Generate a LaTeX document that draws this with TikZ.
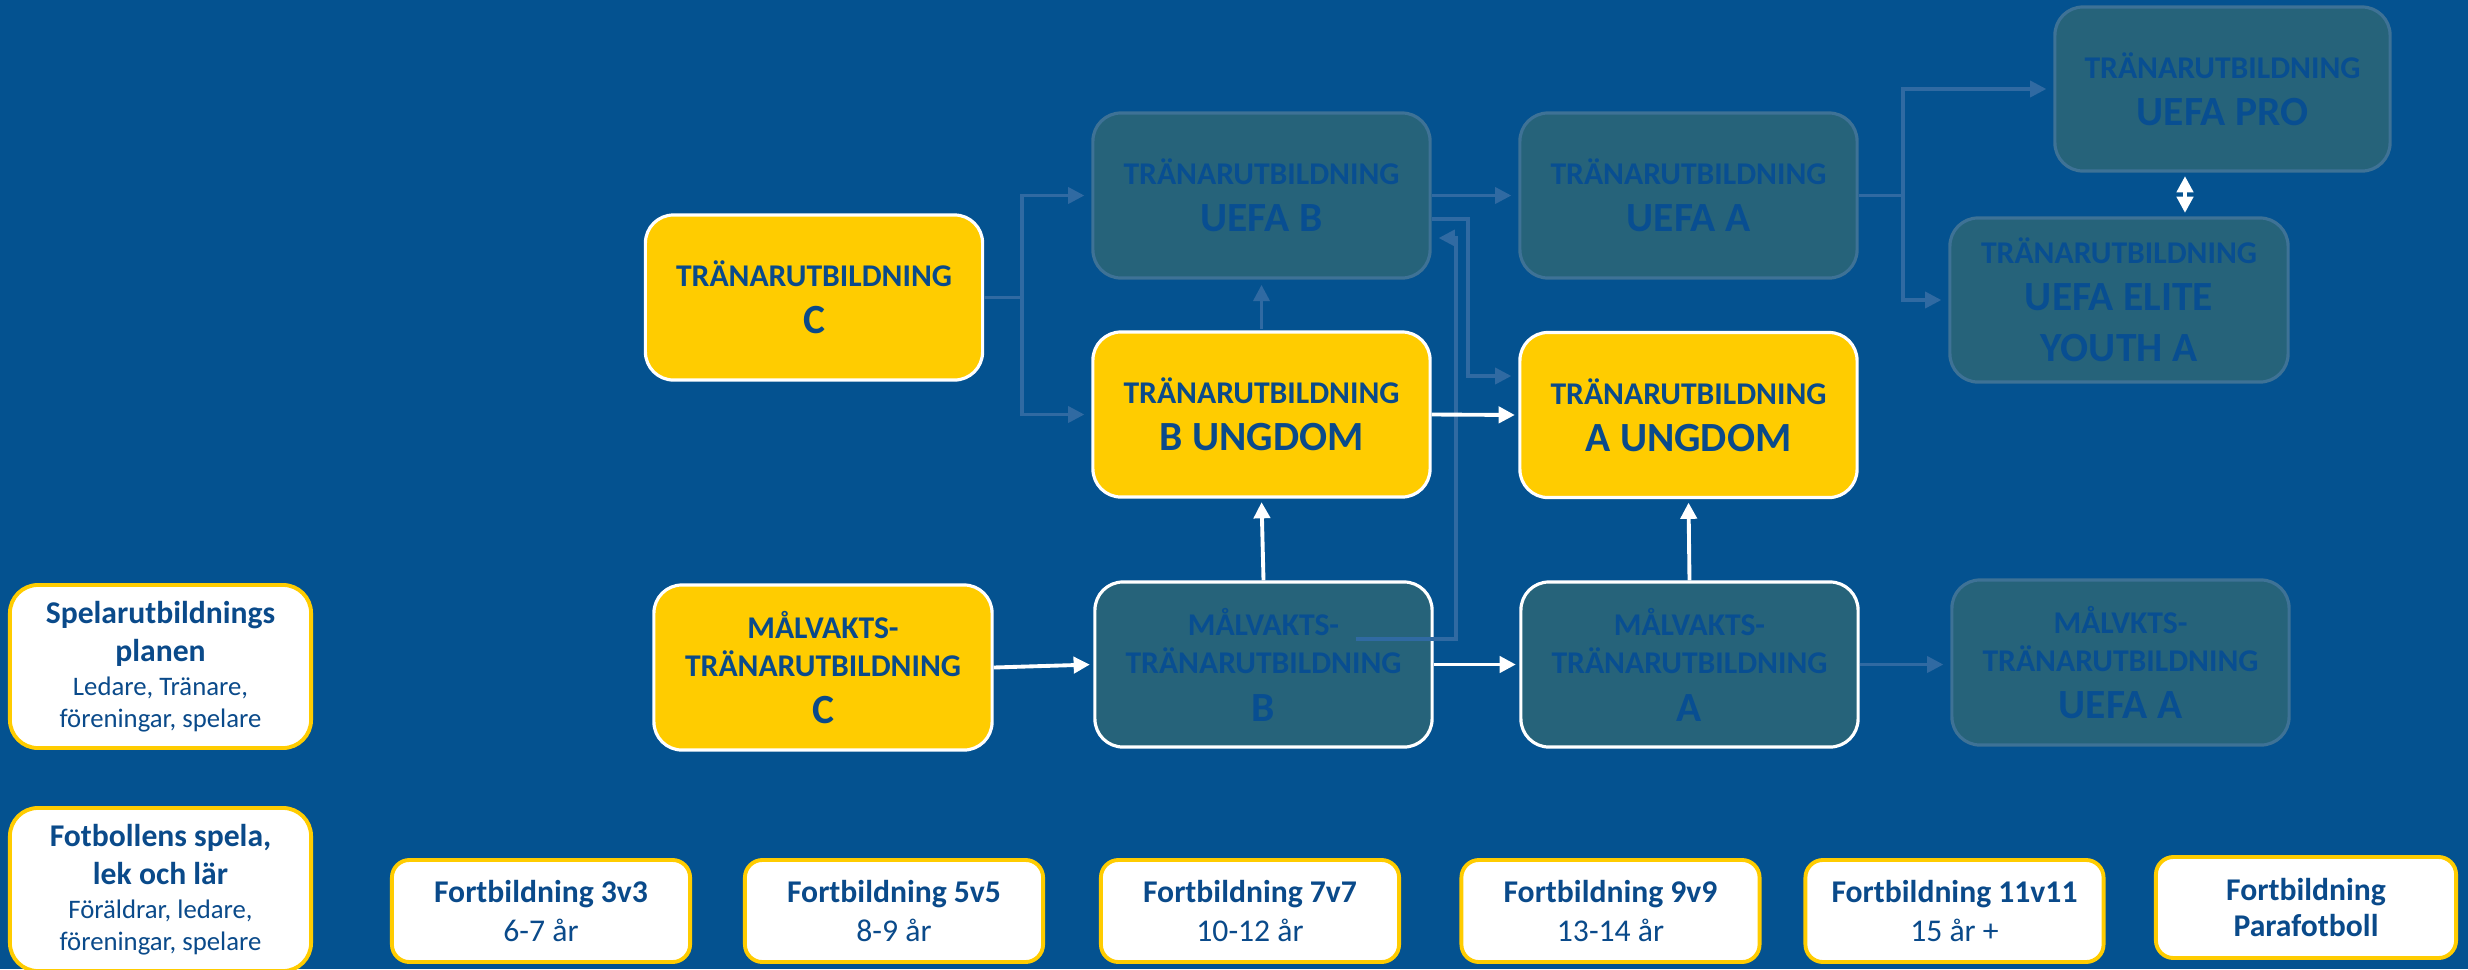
\documentclass[tikz,border=0pt]{standalone}
\usepackage{fontspec}
\setmainfont{Carlito}
\usetikzlibrary{calc,arrows.meta}

\definecolor{bgblue}{RGB}{4,82,144}
\definecolor{gold}{RGB}{255,204,0}
\definecolor{ink}{RGB}{10,74,138}
\definecolor{fadebox}{RGB}{38,99,122}
\definecolor{fadeedge}{RGB}{62,114,150}
\definecolor{fadetext}{RGB}{8,78,145}
\definecolor{faintline}{RGB}{48,106,162}

\newcommand{\lineA}{\fontsize{9}{13.4}\selectfont}
\newcommand{\lineB}{\fontsize{11.8}{14}\selectfont}

\begin{document}
\begin{tikzpicture}[x=0.01cm,y=-0.01cm,>={Triangle[length=4.6pt,width=4.6pt]},
    lvlbox/.style={rectangle,rounded corners=8pt,minimum width=3.37cm,minimum height=1.65cm,
      align=center,font=\bfseries\lineA,line width=0.9pt},
    yel/.style={lvlbox,fill=gold,draw=white,text=ink},
    fade/.style={lvlbox,fill=fadebox,draw=fadeedge,text=fadetext},
    fadew/.style={lvlbox,fill=fadebox,draw=white,text=fadetext},
    info/.style={rectangle,rounded corners=5pt,fill=white,draw=gold,line width=1.1pt,
      minimum width=2.98cm,minimum height=1.02cm,align=center,text=ink,
      font=\fontsize{9}{11}\selectfont},
    side/.style={info,rounded corners=8pt,minimum width=3.01cm,minimum height=1.63cm,
      font=\fontsize{9}{10.8}\selectfont},
    faint/.style={draw=faintline,line width=0.9pt,shorten >=2pt},
    wht/.style={draw=white,line width=1.1pt,shorten >=1pt}]
        \fill[bgblue] (0,0) rectangle (2468,969);
        \useasboundingbox (0,0) rectangle (2468,969);
        % left column
        \node[side] (spel) at (160.5,666.5) {\textbf{Spelarutbildnings}\\\textbf{planen}\\[-1.2pt]{\fontsize{7.6}{9}\selectfont Ledare, Tränare,}\\[-1.8pt]{\fontsize{7.6}{9}\selectfont föreningar, spelare}};
        \node[side] (fotb) at (160.5,889.5) {\textbf{Fotbollens spela,}\\\textbf{lek och lär}\\[-1.2pt]{\fontsize{7.6}{9}\selectfont Föräldrar, ledare,}\\[-1.8pt]{\fontsize{7.6}{9}\selectfont föreningar, spelare}};
        % bottom row
        \node[info] (f3) at (541,911) {\textbf{Fortbildning 3v3}\\6-7 år};
        \node[info] (f5) at (894,911) {\textbf{Fortbildning 5v5}\\8-9 år};
        \node[info] (f7) at (1250,911) {\textbf{Fortbildning 7v7}\\10-12 år};
        \node[info] (f9) at (1610.5,911) {\textbf{Fortbildning 9v9}\\13-14 år};
        \node[info] (f11) at (1954.5,911) {\textbf{Fortbildning 11v11}\\15 år +};
        \node[info,minimum width=3.0cm,minimum height=1.01cm] (fpara) at (2306,907.5) {\textbf{Fortbildning}\\[-0.8pt]\textbf{Parafotboll}};
        % coach courses
        \node[yel] (cC) at (814,297.5) {TRÄNARUTBILDNING\\{\lineB C}};
        \node[fade] (uB) at (1261.5,195.5) {TRÄNARUTBILDNING\\{\lineB UEFA B}};
        \node[yel] (bU) at (1261.5,414.5) {TRÄNARUTBILDNING\\{\lineB B UNGDOM}};
        \node[fade] (uA) at (1688.5,195.5) {TRÄNARUTBILDNING\\{\lineB UEFA A}};
        \node[yel] (aU) at (1688.5,415) {TRÄNARUTBILDNING\\{\lineB A UNGDOM}};
        \node[fade,minimum width=3.35cm,minimum height=1.64cm] (pro) at (2222.5,89) {TRÄNARUTBILDNING\\{\lineB UEFA PRO}};
        \node[fade,minimum width=3.38cm,minimum height=1.64cm] (elite) at (2119,300) {TRÄNARUTBILDNING\\{\lineB UEFA ELITE}\\[1.2pt]{\lineB YOUTH A}};
        % goalkeeper courses
        \node[yel,minimum width=3.38cm] (mC) at (823,667.5) {MÅLVAKTS-\\[-2.4pt]TRÄNARUTBILDNING\\{\lineB C}};
        \node[fadew] (mB) at (1263.5,664.5) {MÅLVAKTS-\\[-2.4pt]TRÄNARUTBILDNING\\{\lineB B}};
        \node[fadew] (mA) at (1689.5,664.5) {MÅLVAKTS-\\[-2.4pt]TRÄNARUTBILDNING\\{\lineB A}};
        \node[fade] (mU) at (2120.5,662.5) {MÅLVKTS-\\[-2.4pt]TRÄNARUTBILDNING\\{\lineB UEFA A}};
        % faint paths
        \coordinate (jC) at (1022,297.5);
        \draw[faint,->] (cC.east) -- (jC) |- (uB.west);
        \draw[faint,->] (jC) |- (bU.west);
        \draw[faint,->,shorten <=0.5pt,shorten >=1.5pt] (bU.north) -- (uB.south);
        \draw[faint,->] (uB.east) -- (uB.east -| uA.west);
        \coordinate (jB) at (1468,219);
        \draw[faint,->] (uB.east |- jB) -- (jB) |- ($(aU.west)+(0,-39)$);
        \coordinate (jM) at (1456,639);
        \draw[faint,->] ($(mB.center)+(92,-25.5)$) -- (jM) |- ($(uB.east)+(0,42.5)$);
        \draw[faint,->] (mA.east) -- (mA.east -| mU.west);
        \coordinate (jA) at (1903,195.5);
        \draw[faint,->] (uA.east) -- (jA) |- (pro.west);
        \draw[faint,->] (jA) |- (elite.west);
        % white paths
        \draw[wht,->] (bU.east) -- (aU.west);
        \draw[wht,->] (mC.east) -- (mB.west);
        \draw[wht,->] (mB.east) -- (mA.west);
        \draw[wht,->] (mB.north) -- (bU.south);
        \draw[wht,->] (mA.north) -- (aU.south);
        \coordinate (dbl) at (2185,195);
        \draw[wht,<->,shorten <=1pt] (dbl |- pro.south) -- (dbl |- elite.north);
\end{tikzpicture}
\end{document}
